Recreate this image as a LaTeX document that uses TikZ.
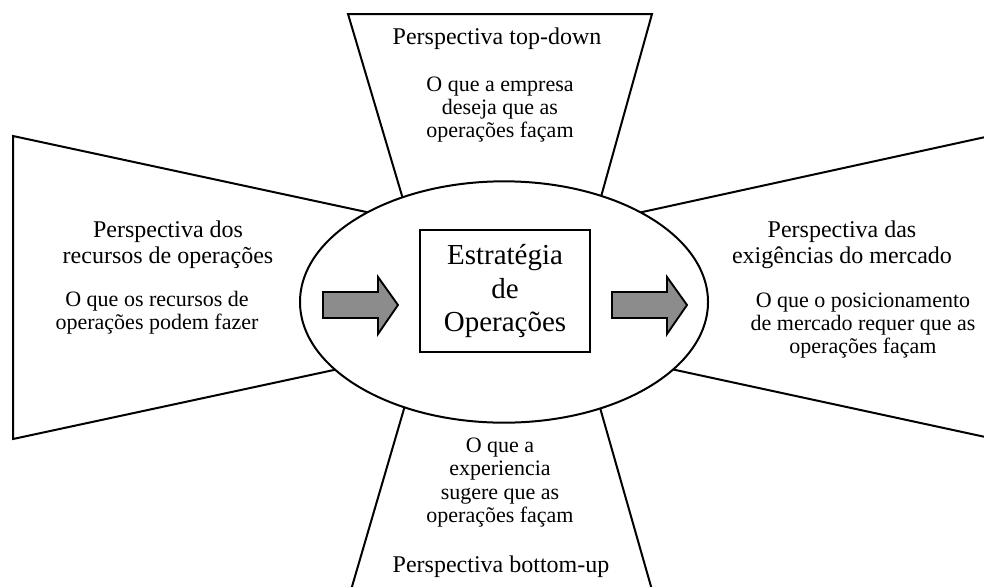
\documentclass[tikz,border=0pt]{standalone}
\usepackage{fontspec}
\setmainfont{Liberation Serif}
\begin{document}
\begin{tikzpicture}[x=0.75pt,y=-0.75pt,
  edge/.style={line width=1.5pt,line join=miter},
  titletext/.style={align=center,inner sep=0pt,font=\fontsize{18}{19.5}\selectfont},
  desctext/.style={align=center,inner sep=0pt,font=\fontsize{16.5}{17.5}\selectfont},
  bigarrow/.style={line width=1.4pt,fill={rgb,255:red,140;green,140;blue,140},line join=miter},
  centerbox/.style={draw,line width=1.4pt,fill=white,align=center,inner sep=0pt,
    minimum width=127.5pt,minimum height=91.5pt,font=\fontsize{21.75}{25}\selectfont}]
\useasboundingbox (0,0) rectangle (984,586);
\clip (0,0) rectangle (984,586);
% top wedge
\draw[edge] (430,290) -- (348,14) -- (652,14) -- (575,290);
% left wedge
\draw[edge] (450,230) -- (13,136) -- (13,439) -- (450,345);
% right wedge
\draw[edge] (560,230) -- (990,136);
\draw[edge] (560,345) -- (990,438);
% bottom wedge
\draw[edge] (430,320) -- (351,590);
\draw[edge] (575,320) -- (652,590);
% ellipse
\draw[edge,fill=white] (504,302) ellipse [x radius=153pt, y radius=90.5pt];
% centre box
\node[centerbox] (box) at (505,291) {Estratégia\\de\\Operações};
% arrows
\draw[bigarrow] (323,292) -- (378,292) -- (378,277) -- (398,305) -- (378,334) -- (378,318) -- (323,318) -- cycle;
\draw[bigarrow] (612,292) -- (667,292) -- (667,277) -- (687,305) -- (667,334) -- (667,318) -- (612,318) -- cycle;
% texts
\node[titletext] (toptitle) at (497,39) {Perspectiva top-down};
\node[desctext] (topdesc) at (500,109.5) {O que a empresa\\deseja que as\\operações façam};
\node[titletext] (lefttitle) at (168,245) {Perspectiva dos\\recursos de operações};
\node[desctext] (leftdesc) at (157,313) {O que os recursos de\\operações podem fazer};
\node[titletext] (righttitle) at (842,245) {Perspectiva das\\exigências do mercado};
\node[desctext] (rightdesc) at (863,325.5) {O que o posicionamento\\de mercado requer que as\\operações façam};
\node[desctext] (botdesc) at (500,482.5) {O que a\\experiencia\\sugere que as\\operações façam};
\node[titletext] (bottitle) at (501,567) {Perspectiva bottom-up};
\end{tikzpicture}
\end{document}
